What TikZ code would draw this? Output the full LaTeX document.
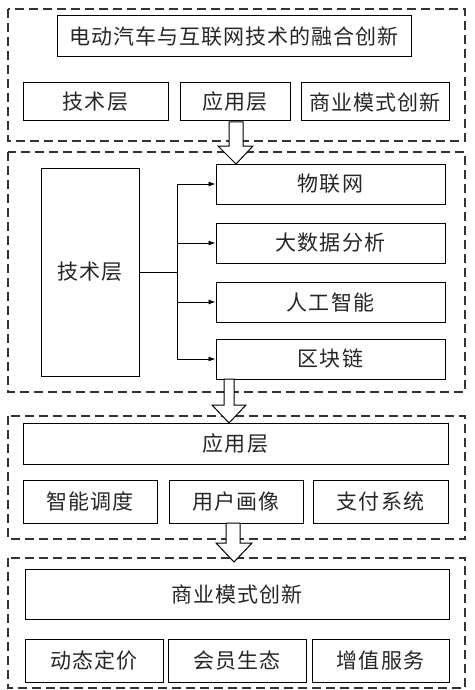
\documentclass[tikz,border=0pt]{standalone}
\usepackage{fontspec}
\setmainfont{Noto Sans CJK SC}[LetterSpace=5]
\usetikzlibrary{arrows.meta}

\tikzset{
  box/.style={draw, line width=1pt, inner sep=0pt, text=black!85, font=\fontsize{21}{25}\selectfont},
  group/.style={draw, line width=1.2pt, dash pattern=on 9pt off 5pt, gray!40!black},
  hollow/.style={draw, line width=1pt, fill=white},
  link/.style={line width=0.9pt, -{Latex[length=7pt,width=5pt]}}
}

\begin{document}
\begin{tikzpicture}[x=1pt,y=-1pt]
\useasboundingbox (0,0) rectangle (474,690);

\draw[group] (8,9) rectangle (465,141);
\draw[group] (8,152) rectangle (465,392);
\draw[group] (8,416) rectangle (465,539);
\draw[group] (8,558) rectangle (465,688);

\node[box, minimum width=354pt, minimum height=41pt] (title) at (234,36.5) {电动汽车与互联网技术的融合创新};
\node[box, minimum width=145pt, minimum height=38pt] (t1) at (95.5,102) {技术层};
\node[box, minimum width=110pt, minimum height=38pt] (t2) at (235,102) {应用层};
\node[box, minimum width=148pt, minimum height=38pt] (t3) at (375,102) {商业模式创新};

\node[box, minimum width=98pt, minimum height=208pt] (tech) at (90,272) {技术层};
\node[box, minimum width=229pt, minimum height=40pt] (iot) at (330.5,184) {物联网};
\node[box, minimum width=229pt, minimum height=40pt] (bigdata) at (330.5,243) {大数据分析};
\node[box, minimum width=229pt, minimum height=40pt] (ai) at (330.5,302) {人工智能};
\node[box, minimum width=229pt, minimum height=40pt] (chain) at (330.5,359) {区块链};
\coordinate (bus) at (177,272);
\draw[line width=0.9pt] (tech.east) -- (bus);
\foreach \n in {iot,bigdata,ai,chain}
  \draw[link] (bus) |- (\n.west);

\node[box, minimum width=425pt, minimum height=41pt] (app) at (235.5,443.5) {应用层};
\node[box, minimum width=134pt, minimum height=43pt] (sched) at (90,501.5) {智能调度};
\node[box, minimum width=134pt, minimum height=43pt] (profile) at (236,501.5) {用户画像};
\node[box, minimum width=135pt, minimum height=43pt] (pay) at (380.5,501.5) {支付系统};

\node[box, minimum width=424pt, minimum height=50pt] (biz) at (237,594) {商业模式创新};
\node[box, minimum width=138pt, minimum height=43pt] (pricing) at (94,660.5) {动态定价};
\node[box, minimum width=138pt, minimum height=43pt] (member) at (237,660.5) {会员生态};
\node[box, minimum width=137pt, minimum height=43pt] (value) at (380.5,660.5) {增值服务};

\draw[hollow] (229,122) -- (229,146) -- (218,146) -- (236,164) -- (253,146) -- (243,146) -- (243,122) -- cycle;
\draw[hollow] (224,379) -- (224,405) -- (212,405) -- (229,423) -- (246,405) -- (234,405) -- (234,379) -- cycle;
\draw[hollow] (226,523) -- (226,543) -- (216,543) -- (234,562) -- (252,543) -- (240,543) -- (240,523) -- cycle;
\end{tikzpicture}
\end{document}
